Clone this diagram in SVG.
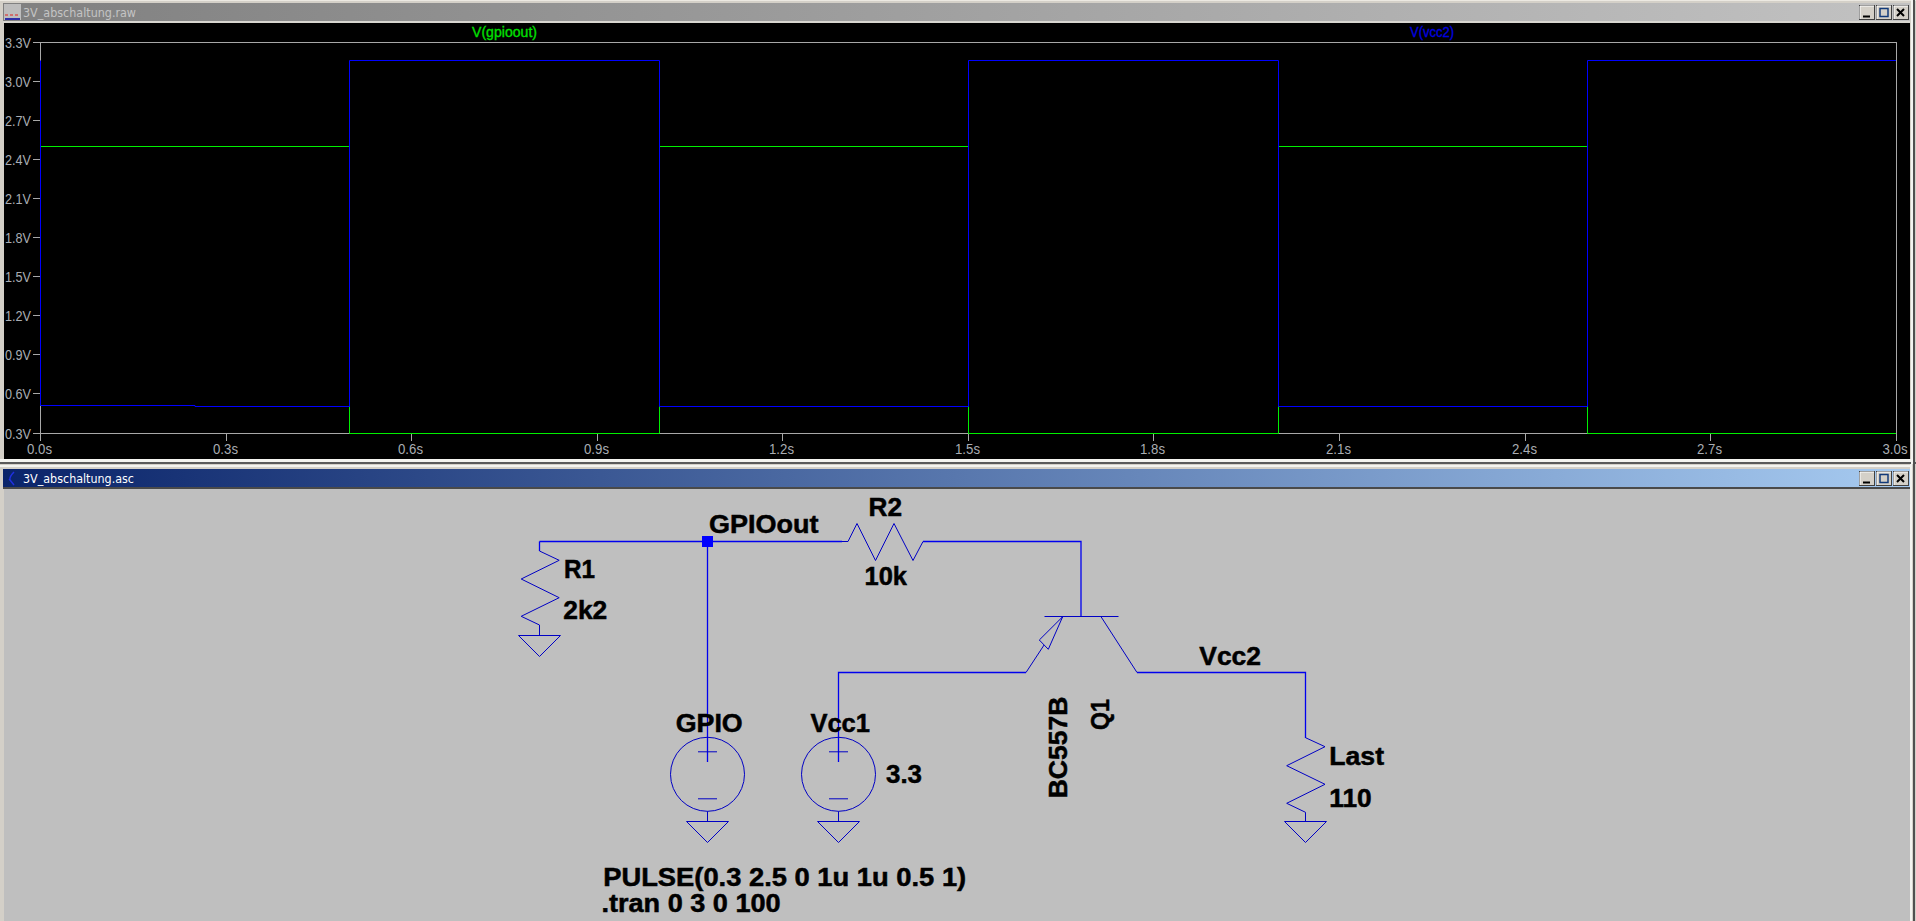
<svg xmlns="http://www.w3.org/2000/svg" width="1916" height="921" viewBox="0 0 1916 921">
<style>
text{font-family:"Liberation Sans",Arial,sans-serif}
.lab{font-size:25px;font-weight:bold;fill:#000;stroke:#000;stroke-width:.5px}
.ax{font-size:14px;fill:#a9adb3}
.ttl{font-family:"DejaVu Sans",Verdana,sans-serif;font-size:12px}
.w{fill:none;stroke:#0000ee;stroke-width:1.3}
.s{fill:none;stroke:#0000c4;stroke-width:1}
.tick{stroke:#a8a8a8;stroke-width:1;fill:none}
.btn{fill:#d4d0c8;stroke:#404040;stroke-width:1}
.blue{fill:none;stroke:#0000ff;stroke-width:1}
.green{fill:none;stroke:#00f000;stroke-width:1}
</style>
<defs>
<linearGradient id="g1"><stop offset="0" stop-color="#808080"/><stop offset="1" stop-color="#c2c2c2"/></linearGradient>
<linearGradient id="g2"><stop offset="0" stop-color="#0a246a"/><stop offset="1" stop-color="#a6caf0"/></linearGradient>
<g id="gnd"><path class="s" d="M-21 0H21L0 21Z"/></g>
<g id="src"><circle class="s" cx="0" cy="0" r="37"/><path class="s" d="M-9.500 -22.500H9.500M-9.500 24.500H9.500M0 37V47"/></g>
<g id="bt"><rect class="btn" x="0" y="0" width="15" height="14"/><path d="M0.500 13.500V0.500H14.500" fill="none" stroke="#fff"/></g>
</defs>
<rect width="1916" height="921" fill="#d4d0c8"/>

<g id="plot-window">
<rect x="0" y="0" width="1916" height="464" fill="#d4d0c8"/>
<rect x="0" y="0" width="1916" height="1" fill="#ece9e2"/>
<rect x="3" y="3" width="1907" height="18" fill="url(#g1)"/>
<rect x="3" y="21" width="1907" height="2" fill="#d8d6d0"/>
<rect x="4" y="23" width="1906" height="436" fill="#000"/>
<rect x="0" y="459" width="1911" height="3" fill="#f4f4f0"/>
<rect x="0" y="462" width="1916" height="2" fill="#5a5a5a"/>
<rect x="1911" y="0" width="2" height="464" fill="#f4f4f0"/>
<rect x="1913" y="0" width="2" height="464" fill="#505050"/>
<rect x="4" y="4" width="17" height="16" fill="#bdbdbd"/>
<path d="M5 15h13" stroke="#e02020" stroke-dasharray="3 2" fill="none"/>
<path d="M5 19h15" stroke="#0000a0" stroke-width="1.500" fill="none"/>
<text class="ttl" x="23" y="17" fill="#c4c4c4" textLength="113" lengthAdjust="spacingAndGlyphs">3V_abschaltung.raw</text>
<use href="#bt" x="1859.500" y="5.500"/><use href="#bt" x="1876.500" y="5.500"/><use href="#bt" x="1893.500" y="5.500"/>
<path d="M1863 16.500h7" stroke="#000" stroke-width="2"/>
<rect x="1880" y="8.500" width="8" height="8" fill="none" stroke="#123a7a" stroke-width="1.500"/>
<path d="M1897 9l7 7M1904 9l-7 7" stroke="#000" stroke-width="2"/>
</g>

<g id="plot-axes">
<rect class="tick" x="40.500" y="42.500" width="1856" height="391"/>
<path class="tick" d="M33 42.500h7M33 81.500h7M33 120.500h7M33 159.500h7M33 198.500h7M33 237.500h7M33 276.500h7M33 315.500h7M33 354.500h7M33 393.500h7M33 433.500h7"/>
<path class="tick" d="M40.500 433v8M226.500 433v8M411.500 433v8M597.500 433v8M782.500 433v8M968.500 433v8M1153.500 433v8M1339.500 433v8M1525.500 433v8M1710.500 433v8M1896.500 433v8"/>
<g class="ax" text-anchor="end">
<text x="31" y="47.500" textLength="26" lengthAdjust="spacingAndGlyphs">3.3V</text>
<text x="31" y="86.500" textLength="26" lengthAdjust="spacingAndGlyphs">3.0V</text>
<text x="31" y="125.500" textLength="26" lengthAdjust="spacingAndGlyphs">2.7V</text>
<text x="31" y="164.500" textLength="26" lengthAdjust="spacingAndGlyphs">2.4V</text>
<text x="31" y="203.500" textLength="26" lengthAdjust="spacingAndGlyphs">2.1V</text>
<text x="31" y="242.500" textLength="26" lengthAdjust="spacingAndGlyphs">1.8V</text>
<text x="31" y="281.500" textLength="26" lengthAdjust="spacingAndGlyphs">1.5V</text>
<text x="31" y="320.500" textLength="26" lengthAdjust="spacingAndGlyphs">1.2V</text>
<text x="31" y="359.500" textLength="26" lengthAdjust="spacingAndGlyphs">0.9V</text>
<text x="31" y="398.500" textLength="26" lengthAdjust="spacingAndGlyphs">0.6V</text>
<text x="31" y="438.500" textLength="26" lengthAdjust="spacingAndGlyphs">0.3V</text>
</g>
<g class="ax" text-anchor="middle">
<text x="39.500" y="454" textLength="25" lengthAdjust="spacingAndGlyphs">0.0s</text>
<text x="225.500" y="454" textLength="25" lengthAdjust="spacingAndGlyphs">0.3s</text>
<text x="410.500" y="454" textLength="25" lengthAdjust="spacingAndGlyphs">0.6s</text>
<text x="596.500" y="454" textLength="25" lengthAdjust="spacingAndGlyphs">0.9s</text>
<text x="781.500" y="454" textLength="25" lengthAdjust="spacingAndGlyphs">1.2s</text>
<text x="967.500" y="454" textLength="25" lengthAdjust="spacingAndGlyphs">1.5s</text>
<text x="1152.500" y="454" textLength="25" lengthAdjust="spacingAndGlyphs">1.8s</text>
<text x="1338.500" y="454" textLength="25" lengthAdjust="spacingAndGlyphs">2.1s</text>
<text x="1524.500" y="454" textLength="25" lengthAdjust="spacingAndGlyphs">2.4s</text>
<text x="1709.500" y="454" textLength="25" lengthAdjust="spacingAndGlyphs">2.7s</text>
<text x="1895" y="454" textLength="25" lengthAdjust="spacingAndGlyphs">3.0s</text>
</g>
<text x="472" y="37" font-size="14" fill="#00e000" stroke="#00e000" stroke-width=".3" textLength="65" lengthAdjust="spacingAndGlyphs">V(gpioout)</text>
<text x="1410" y="37" font-size="14" fill="#0000e0" stroke="#0000e0" stroke-width=".3" textLength="44" lengthAdjust="spacingAndGlyphs">V(vcc2)</text>
</g>

<g id="plot-traces">
<path class="green" d="M40.500 406V146.500H349.500V433.500H659.500V146.500H968.500V433.500H1278.500V146.500H1587.500V433.500H1896"/>
<path class="blue" d="M40.500 60.500V405.500H195V406.500H349.500V60.500H659.500V406.500H968.500V60.500H1278.500V406.500H1587.500V60.500H1896"/>
</g>

<g id="schematic-window">
<rect x="0" y="464" width="1916" height="457" fill="#d4d0c8"/>
<rect x="0" y="465" width="1911" height="2" fill="#f4f4f0"/>
<rect x="3" y="469" width="1907" height="18" fill="url(#g2)"/>
<rect x="3" y="487" width="1907" height="2" fill="#4a4a4a"/>
<rect x="4" y="489" width="1906" height="432" fill="#bfbfbf"/>
<rect x="1910" y="464" width="2" height="457" fill="#f4f4f0"/>
<rect x="1912" y="464" width="1" height="457" fill="#d4d0c8"/>
<rect x="1913" y="464" width="2" height="457" fill="#505050"/>
<path d="M14 472Q9 477 10 480L9 479M10 480L14 485" fill="none" stroke="#2030e0" stroke-width="1.500"/>
<text class="ttl" x="23" y="483" fill="#fff" textLength="111" lengthAdjust="spacingAndGlyphs">3V_abschaltung.asc</text>
<use href="#bt" x="1859.500" y="471.500"/><use href="#bt" x="1876.500" y="471.500"/><use href="#bt" x="1893.500" y="471.500"/>
<path d="M1863 482.500h7" stroke="#000" stroke-width="2"/>
<rect x="1880" y="474.500" width="8" height="8" fill="none" stroke="#123a7a" stroke-width="1.500"/>
<path d="M1897 475l7 7M1904 475l-7 7" stroke="#000" stroke-width="2"/>
</g>

<g id="connectors">
<path class="w" d="M539.500 541.500H842"/>
<path class="w" d="M707.500 541.500V762"/>
<path class="w" d="M923 541.500H1081V616"/>
<path class="w" d="M1026 672.500H838.500V762"/>
<path class="w" d="M1137 672.500H1305.500V738"/>
<path class="w" d="M539.500 541.500V551"/>
<rect x="702" y="536" width="11" height="11" fill="#0000ff"/>
</g>

<g id="R1">
<path class="s" d="M539.500 551L559.200 560.300L521.200 579L559.200 597.700L521.200 616.300L539.500 625V635.300"/>
<use href="#gnd" x="539.500" y="635.500"/>
<text class="lab" x="564" y="577.700" textLength="31" lengthAdjust="spacingAndGlyphs">R1</text>
<text class="lab" x="563.300" y="619.300" textLength="44" lengthAdjust="spacingAndGlyphs">2k2</text>
</g>
<g id="R2">
<path class="s" d="M842 541.500H848L857 523.500L875.500 560.500L894 523.500L913 560.500L923 541.500"/>
<text class="lab" x="868.600" y="516" textLength="33.500" lengthAdjust="spacingAndGlyphs">R2</text>
<text class="lab" x="864.500" y="585" textLength="42.500" lengthAdjust="spacingAndGlyphs">10k</text>
</g>
<g id="GPIOout"><text class="lab" x="709" y="533.300" textLength="109.500" lengthAdjust="spacingAndGlyphs">GPIOout</text></g>
<g id="GPIO">
<use href="#src" x="707.500" y="774.300"/>
<use href="#gnd" x="707.500" y="821.500"/>
<text class="lab" x="675.700" y="731.700" textLength="67" lengthAdjust="spacingAndGlyphs">GPIO</text>
<text class="lab" x="603.200" y="886" textLength="363" lengthAdjust="spacingAndGlyphs">PULSE(0.3 2.5 0 1u 1u 0.5 1)</text>
</g>
<g id="Vcc1">
<use href="#src" x="838.500" y="774.300"/>
<use href="#gnd" x="838.500" y="821.500"/>
<text class="lab" x="810.400" y="731.700" textLength="59.600" lengthAdjust="spacingAndGlyphs">Vcc1</text>
<text class="lab" x="886" y="782.700" textLength="36" lengthAdjust="spacingAndGlyphs">3.3</text>
</g>
<g id="Q1">
<path class="s" d="M1044.500 616.500H1118.500"/>
<path class="s" d="M1062.700 616.700L1026 672.500M1101 616.700L1137 672.500"/>
<path class="s" d="M1062.700 616.700L1039.300 640L1048.300 649.300Z" style="fill:#bfbfbf"/>
<text class="lab" transform="translate(1067.300 798.300) rotate(-90)" textLength="101.600" lengthAdjust="spacingAndGlyphs">BC557B</text>
<text class="lab" transform="translate(1109.300 730) rotate(-90)" textLength="31" lengthAdjust="spacingAndGlyphs">Q1</text>
</g>
<g id="Vcc2"><text class="lab" x="1199.300" y="665" textLength="61.700" lengthAdjust="spacingAndGlyphs">Vcc2</text></g>
<g id="Last">
<path class="s" d="M1305.500 737.700L1325 746.700L1286.700 765.700L1325 784.300L1286.700 803.300L1305.500 812.300V821.300"/>
<use href="#gnd" x="1305.500" y="821.500"/>
<text class="lab" x="1329.300" y="765" textLength="54.700" lengthAdjust="spacingAndGlyphs">Last</text>
<text class="lab" x="1329.300" y="806.700" textLength="42.400" lengthAdjust="spacingAndGlyphs">110</text>
</g>
<g id="tran-directive"><text class="lab" x="601.400" y="911.700" textLength="179.300" lengthAdjust="spacingAndGlyphs">.tran 0 3 0 100</text></g>
</svg>
